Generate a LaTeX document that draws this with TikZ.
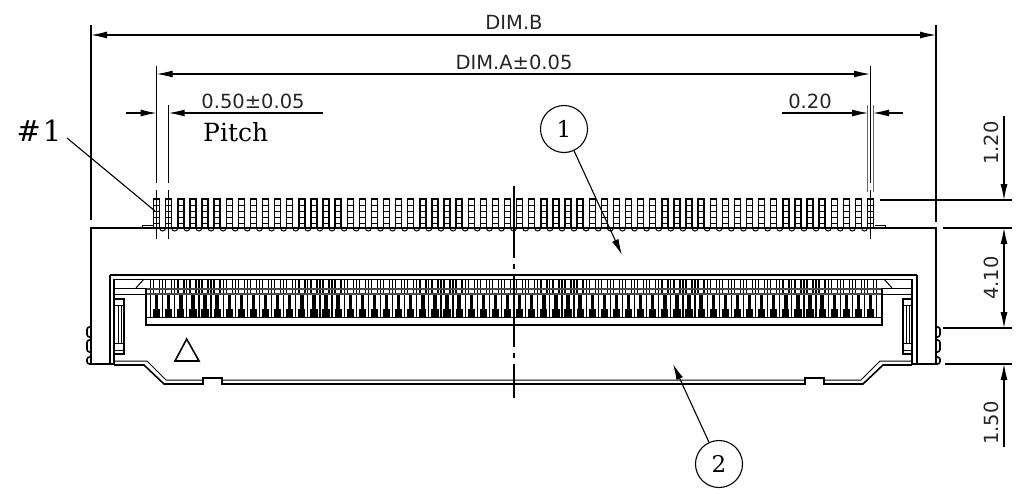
\documentclass[tikz,border=0pt]{standalone}
\usepackage{fontspec}
\usetikzlibrary{arrows.meta}
\newfontfamily\dimfont{DejaVu Sans}
\newfontfamily\markfont{DejaVu Serif}
\tikzset{
  outline/.style={black, line width=1.6pt},
  thinline/.style={black, line width=1pt},
  extline/.style={black, line width=1.1pt},
  dimline/.style={black, line width=1.1pt, {Latex[length=16pt,width=7pt]}-{Latex[length=16pt,width=7pt]}},
  dimarrow/.style={black, line width=1.1pt, -{Latex[length=16pt,width=7pt]}},
  dimtext/.style={font=\dimfont\fontsize{19.5}{20}\selectfont, text=black!85, inner sep=0pt},
  marktext/.style={font=\markfont, inner sep=0pt},
  callout/.style={draw, circle, line width=1.1pt, minimum size=47pt, inner sep=0pt, font=\markfont\fontsize{23}{23}\selectfont},
  pointer/.style={black, line width=1.1pt, -{Latex[length=16pt,width=7pt]}}
}
\begin{document}
\begin{tikzpicture}[x=1pt,y=-1pt]
\useasboundingbox (0,0) rectangle (1023,493);

% extension lines
\draw[extline] (91,25) -- (91,220);
\draw[extline] (936,25) -- (936,222);
\draw[extline] (156.6,66) -- (156.6,183) (156.6,190) -- (156.6,239);
\draw[extline] (168.7,105) -- (168.7,183) (168.7,190) -- (168.7,239);
\draw[thinline] (870,66) -- (870,183) (870,190) -- (870,239);
\draw[black!60, line width=.8pt] (867.6,105) -- (867.6,192) (873,105) -- (873,192);
\draw[extline] (880,200) -- (1012,200);
\draw[extline] (943,228) -- (1012,228);
\draw[extline] (943,328) -- (1012,328);
\draw[extline] (945,364) -- (1012,364);

% dimensions
\draw[dimline] (91,35) -- (936,35);
\draw[dimline] (156.6,74) -- (870,74);
\node[dimtext] (dimb) at (514,22) {DIM.B};
\node[dimtext] (dima) at (514,62) {DIM.A±0.05};

\draw[dimarrow] (126,113) -- (156.6,113);
\draw[dimarrow] (323,113) -- (168.7,113);
\node[dimtext] (pitchdim) at (253,101) {0.50±0.05};
\node[marktext, font=\markfont\fontsize{25}{25}\selectfont, anchor=base west] (pitch) at (203,141) {Pitch};

\draw[dimarrow] (782,113) -- (868,113);
\draw[dimarrow] (903,113) -- (873,113);
\node[dimtext] (pad) at (810,101) {0.20};

\draw[dimarrow] (1004,116) -- (1004,200);
\draw[dimline] (1004,228) -- (1004,328);
\draw[dimarrow] (1004,447) -- (1004,364);
\node[dimtext, rotate=90] (hone) at (991,143) {1.20};
\node[dimtext, rotate=90] (htwo) at (991,278) {4.10};
\node[dimtext, rotate=90] (hthree) at (991,423) {1.50};

% outer body
\draw[outline] (91,364) -- (91,228) -- (936,228) -- (936,364);
\draw[outline] (91,364) -- (114,364) (912,364) -- (936,364);
\draw[thinline] (142,228) -- (142,225) -- (153,225) (875,225) -- (885,225) -- (885,228);
\foreach \sx/\sy in {91/1, 936/-1}{
  \draw[outline, rounded corners=2.5pt] (\sx,327) -- ++(-4*\sy,0) -- ++(0,10) -- ++(4*\sy,0);
  \draw[outline, rounded corners=2.5pt] (\sx,340) -- ++(-4*\sy,0) -- ++(0,12) -- ++(4*\sy,0);
  \draw[outline, rounded corners=2.5pt] (\sx,357) -- ++(-4*\sy,0) -- ++(0,7) -- ++(4*\sy,0);
}

% terminals, top row
\foreach \i [evaluate=\i as \xi using 156.6+12.1*\i] in {0,...,59}{
  \draw[black, line width=1.4pt] (\xi-3,228) -- (\xi-3,199) -- (\xi+3,199) -- (\xi+3,228);
  \draw[thinline] (\xi-3,205) -- (\xi+3,205) (\xi-3,211) -- (\xi+3,211) (\xi-3,217) -- (\xi+3,217) (\xi-3,223) -- (\xi+3,223);
}
\foreach \i [evaluate=\i as \xi using 162.65+12.1*\i] in {0,...,58}
  \draw[thinline] (\xi-3,228) arc[start angle=180,end angle=0,radius=3];

% cavity
\draw[outline, line width=2pt] (110,275) -- (917,275);
\draw[thinline] (114,279) -- (912,279);
\draw[outline] (110,275) -- (110,364) (917,275) -- (917,364);
\draw[outline] (114,279) -- (114,364) (912,279) -- (912,364);
\draw[thinline] (115,288) -- (146,288) (115,294) -- (146,294);
\draw[thinline] (882,288) -- (912,288) (882,294) -- (912,294);
\draw[thinline] (136,288) -- (144,279) (884,279) -- (892,288);

% latches
\foreach \lx/\dx in {115/1, 912/-1}{
  \draw[outline] (\lx,299) -- ++(9*\dx,0) -- ++(0,55) -- ++(-9*\dx,0);
  \draw[thinline] (\lx,305) -- ++(9*\dx,0) (\lx,343) -- ++(9*\dx,0) (\lx,350) -- ++(9*\dx,0);
  \draw[thinline] (\lx+3*\dx,305) -- ++(0,38) (\lx+6*\dx,305) -- ++(0,38);
}

% contacts, cavity row
\foreach \i [evaluate=\i as \xi using 156.6+12.1*\i] in {0,...,59}{
  \draw[black, line width=1.4pt] (\xi-3,279) -- (\xi-3,294) (\xi+3,279) -- (\xi+3,294);
  \draw[black, line width=3.4pt] (\xi,294) -- (\xi,317);
  \fill[black] (\xi-3.6,309) rectangle (\xi+3.6,317);
}
\foreach \i [evaluate=\i as \xi using 150.55+12.1*\i] in {0,...,60}
  \draw[thinline, line width=1.2pt] (\xi,279) -- (\xi,317);
\draw[black!70, line width=1.2pt] (146,289) -- (882,289) (146,294) -- (882,294);
\draw[outline] (146,288) -- (146,325) -- (882,325) -- (882,288);
\draw[thinline] (146,317) -- (882,317);

% bottom contour
\draw[outline] (114,365) -- (144,365) -- (164,384) -- (203,384) -- (203,378) -- (222,378) -- (222,384) -- (805,384) -- (805,378) -- (824,378) -- (824,384) -- (863,384) -- (883,365) -- (912,365);
\draw[thinline] (114,361) -- (147,361) -- (166,380) -- (203,380) (222,380) -- (805,380) (824,380) -- (861,380) -- (880,361) -- (912,361);

% triangle mark
\draw[outline] (186.7,339) -- (175,361) -- (199,361) -- cycle;

% center line
\draw[extline, dash pattern=on 72pt off 6pt on 5pt off 6pt] (514,186) -- (514,398);

% pin one mark and callouts
\node[marktext, font=\markfont\fontsize{29}{29}\selectfont] (pinone) at (39,131) {\#\kern2pt 1};
\coordinate (pinonetip) at (155,211);
\coordinate (pinonefoot) at (67,138);
\draw[extline] (pinonefoot) -- (pinonetip);
\node[callout] (one) at (564,129) {1};
\node[callout] (two) at (719,464) {2};
\coordinate (onetip) at (622,255);
\coordinate (twotip) at (673,364);
\draw[pointer] (one) -- (onetip);
\draw[pointer] (two) -- (twotip);
\end{tikzpicture}
\end{document}
